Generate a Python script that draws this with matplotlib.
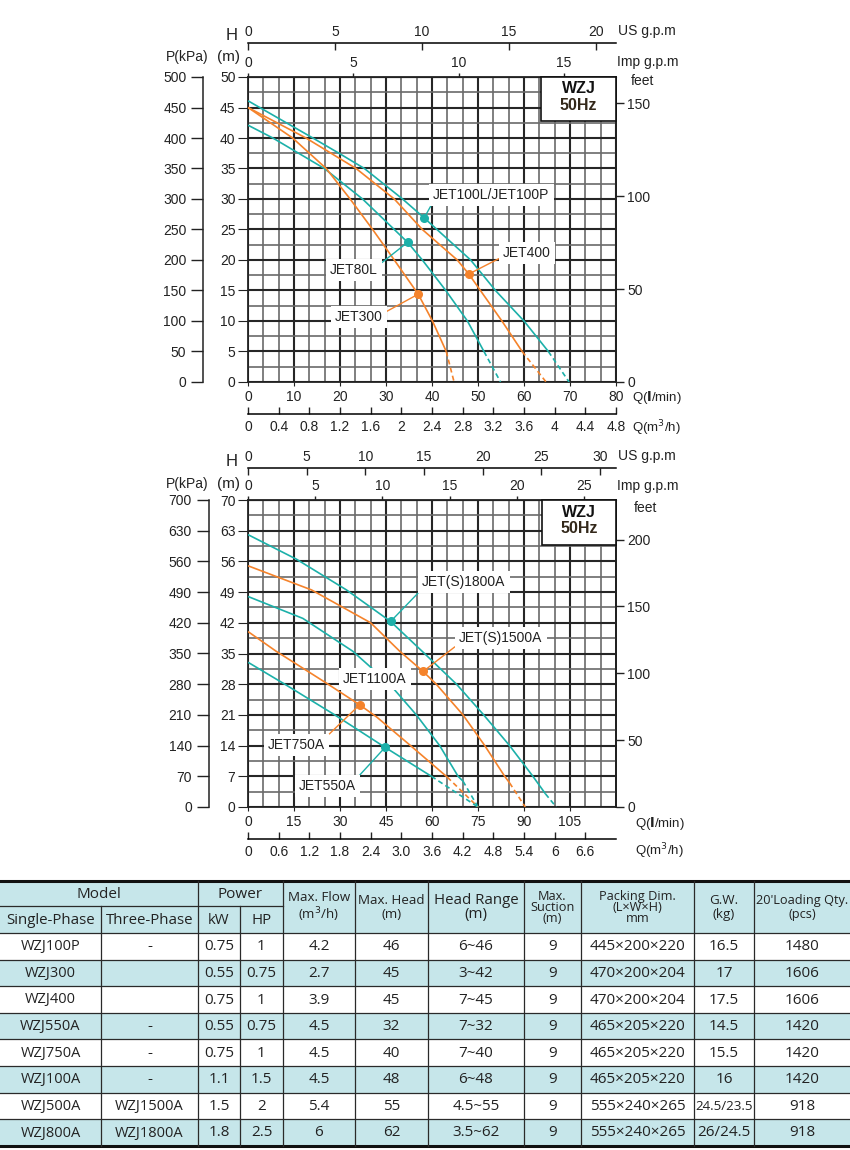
import numpy as np
import matplotlib
matplotlib.use("Agg")
import matplotlib.pyplot as plt
from matplotlib.patches import Rectangle

plt.rcParams['font.family'] = ['Liberation Sans', 'DejaVu Sans']

# ---------------- Data: upper chart ----------------
q_jet100 = [0, 14.1, 20, 25.3, 33.6, 38.3, 48.4, 53.8, 60.0, 65.3, 69.8]
h_jet100 = [46.1, 40, 37.4, 35, 30, 26.9, 20, 15, 10, 5, 0]
q_jet400 = [0, 12.6, 23.5, 31.8, 37.9, 45.5, 48.0, 55.2, 59.6, 64.8]
h_jet400 = [45, 40, 35, 30, 25, 20, 17.7, 10, 5, 0]
q_jet80l = [0, 5.4, 16.6, 24.9, 34.7, 37.9, 43.0, 47.7, 51.3, 54.9]
h_jet80l = [42.1, 40, 35, 30, 22.9, 20, 15, 10, 5, 0]
q_jet300 = [0, 9.7, 17.0, 22.2, 27.1, 31.8, 37.0, 40.1, 43.1, 44.8]
h_jet300 = [45, 40, 35, 30, 25, 20, 14.4, 10, 5, 0]
mark_q_top = [38.3, 48.0, 34.7, 37.0]
mark_h_top = [26.9, 17.7, 22.9, 14.4]
names_top = ['JET100L/JET100P', 'JET400', 'JET80L', 'JET300']

# ---------------- Data: lower chart ----------------
q_jet1800 = [0, 15.8, 32.1, 46.5, 57.1, 68, 76.6, 85.3, 92.9, 97.0, 100.5]
h_jet1800 = [62.1, 56.5, 49.5, 42.3, 35.3, 28, 21.2, 14, 7, 3, 0]
q_jet1500 = [0, 20.7, 40.0, 49.5, 57.1, 61.4, 70.1, 77.2, 83.7, 85.3, 90.4]
h_jet1500 = [55, 49.5, 42, 35.5, 30.9, 28, 21, 14, 7, 5.5, 0]
q_jet1100 = [0, 17.9, 34.2, 46.2, 54.9, 62.5, 68.5, 70.1, 75]
h_jet1100 = [48, 43, 35.5, 28, 21, 14, 7, 5.9, 0]
q_jet750 = [0, 9.2, 25, 36.4, 42, 53, 65, 75]
h_jet750 = [40, 35.5, 28.5, 23.3, 20.5, 14, 6.8, 0]
q_jet550 = [0, 12, 28.3, 44.7, 59.8, 75]
h_jet550 = [33, 28, 21, 13.6, 7, 0]
mark_q_bot = [46.5, 57.1, None, 36.4, 44.7]
mark_h_bot = [42.3, 30.9, None, 23.3, 13.6]
names_bot = ['JET(S)1800A', 'JET(S)1500A', 'JET1100A', 'JET750A', 'JET550A']

# ---------------- Data: table ----------------
single_phase = ['WZJ100P', 'WZJ300', 'WZJ400', 'WZJ550A', 'WZJ750A', 'WZJ100A', 'WZJ500A', 'WZJ800A']
three_phase = ['-', '', '', '-', '-', '-', 'WZJ1500A', 'WZJ1800A']
power_kw = ['0.75', '0.55', '0.75', '0.55', '0.75', '1.1', '1.5', '1.8']
power_hp = ['1', '0.75', '1', '0.75', '1', '1.5', '2', '2.5']
max_flow = ['4.2', '2.7', '3.9', '4.5', '4.5', '4.5', '5.4', '6']
max_head = ['46', '45', '45', '32', '40', '48', '55', '62']
head_range = ['6~46', '3~42', '7~45', '7~32', '7~40', '6~48', '4.5~55', '3.5~62']
max_suction = ['9', '9', '9', '9', '9', '9', '9', '9']
packing_dim = ['445×200×220', '470×200×204', '470×200×204', '465×205×220',
               '465×205×220', '465×205×220', '555×240×265', '555×240×265']
gross_weight = ['16.5', '17', '17.5', '14.5', '15.5', '16', '24.5/23.5', '26/24.5']
loading_qty = ['1480', '1606', '1606', '1420', '1420', '1420', '918', '918']

TEAL = '#1cb0a9'
ORANGE = '#f5832b'
W, H = 850, 1150
fig = plt.figure(figsize=(8.5, 11.5), dpi=100)


def frac(x0, y0, x1, y1):
    return [x0 / W, 1 - y1 / H, (x1 - x0) / W, (y1 - y0) / H]


def ftxt(x, y, s, **kw):
    kw.setdefault('fontsize', 10)
    kw.setdefault('color', '#222222')
    fig.text(x / W, 1 - y / H, s, **kw)


# ---------------- table (drawn in pixel space) ----------------
axt = fig.add_axes([0, 0, 1, 1])
axt.set_xlim(0, W)
axt.set_ylim(H, 0)
axt.axis('off')
BLUE = '#c6e6ea'
cols = [0, 101, 198, 240, 283, 355, 428, 524, 581, 694, 754, 850]
top, mid, hdr = 881, 906, 933
row_h = 26.6
rows = [hdr + i * row_h for i in range(9)]
axt.add_patch(Rectangle((0, top), W, hdr - top, fc=BLUE, ec='none'))
for i in range(8):
    if i % 2 == 1:
        axt.add_patch(Rectangle((0, rows[i]), W, row_h, fc=BLUE, ec='none'))
LC = '#2a2a2a'
axt.plot([0, W], [top, top], color='#111', lw=2.2)
axt.plot([0, W], [rows[-1], rows[-1]], color='#111', lw=2.2)
axt.plot([0, cols[4]], [mid, mid], color=LC, lw=0.9)
for y in rows[:-1]:
    axt.plot([0, W], [y, y], color=LC, lw=0.9)
for j, x in enumerate(cols[1:-1], start=1):
    y0 = mid if j in (1, 3) else top
    axt.plot([x, x], [y0, rows[-1]], color=LC, lw=0.9)

TF = ['Open Sans', 'DejaVu Sans']
def cell(c0, c1, y0, y1, s, size=11, ls=1.0):
    axt.text((cols[c0] + cols[c1]) / 2, (y0 + y1) / 2 + 0.5, s, ha='center', va='center',
             fontsize=size, color='#222222', family=TF, linespacing=ls)

cell(0, 2, top, mid, 'Model', 11)
cell(2, 4, top, mid, 'Power', 11)
cell(0, 1, mid, hdr, 'Single-Phase', 10.8)
cell(1, 2, mid, hdr, 'Three-Phase', 10.8)
cell(2, 3, mid, hdr, 'kW', 10.8)
cell(3, 4, mid, hdr, 'HP', 10.8)
cell(4, 5, top, hdr, 'Max. Flow\n(m$^3$/h)', 9.6, 1.05)
cell(5, 6, top, hdr, 'Max. Head\n(m)', 9.6, 1.05)
cell(6, 7, top, hdr, 'Head Range\n(m)', 10.8, 0.95)
cell(7, 8, top, hdr, 'Max.\nSuction\n(m)', 9.2, 0.82)
cell(8, 9, top, hdr, 'Packing Dim.\n(L×W×H)\nmm', 9.2, 0.82)
cell(9, 10, top, hdr, 'G.W.\n(kg)', 9.6, 1.05)
cell(10, 11, top, hdr, "20'Loading Qty.\n(pcs)", 9.2, 1.05)

table_cols = [single_phase, three_phase, power_kw, power_hp, max_flow, max_head,
              head_range, max_suction, packing_dim, gross_weight, loading_qty]
for i in range(8):
    for j, col in enumerate(table_cols):
        s = col[i]
        size = 11
        if j == 0 or (j == 1 and s.startswith('WZJ')):
            size = 10.5
        if j == 9 and '/' in s and len(s) > 7:
            size = 9.6
        cell(j, j + 1, rows[i], rows[i + 1], s, size)


# ---------------- charts ----------------
def minor_only(step, major, vmax):
    vals = np.arange(0, vmax + 1e-6, step)
    return [v for v in vals if abs(v / major - round(v / major)) > 1e-6]


def make_chart(rect, spec):
    ax = fig.add_axes(rect)
    qmax, hmax = spec['qmax'], spec['hmax']
    ax.set_xlim(0, qmax)
    ax.set_ylim(0, hmax)
    ax.set_xticks(spec['q_ticks'])
    ax.set_xticks(minor_only(spec['q_minor'], spec['q_major'], qmax), minor=True)
    ax.set_yticks(spec['h_ticks'])
    ax.set_yticks(minor_only(spec['h_minor'], spec['h_major'], hmax), minor=True)
    ax.grid(which='minor', color='#6a6a6a', lw=1.2, zorder=1)
    ax.grid(which='major', color='#262626', lw=1.5, zorder=1)
    ax.set_axisbelow(True)
    for sp in ax.spines.values():
        sp.set_color('#222')
        sp.set_linewidth(1.3)
    ax.tick_params(axis='x', which='major', direction='out', length=3, labelsize=10,
                   pad=3, colors='#222')
    ax.tick_params(axis='y', which='major', direction='out', length=7, labelsize=10,
                   pad=2, colors='#222')
    ax.tick_params(which='minor', length=0)

    for (q, h, c) in spec['curves']:
        ax.plot(q[:-1], h[:-1], color=c, lw=1.2, zorder=3, solid_capstyle='butt')
        ax.plot(q[-2:], h[-2:], color=c, lw=1.2, ls=(0, (3, 2)), zorder=3)

    for (name, mq, mh, c, tpos, rel) in spec['labels']:
        if mq is not None:
            ax.plot([mq], [mh], 'o', ms=5.5, color=c, zorder=4)
            ax.annotate(name, xy=(mq, mh), xytext=tpos, ha='left', va='center',
                        fontsize=10, color='#222',
                        bbox=dict(boxstyle='square,pad=0.3', fc='white', ec='none'),
                        arrowprops=dict(arrowstyle='-', color=c, lw=1.0, shrinkA=0,
                                        shrinkB=0, relpos=rel), zorder=5)
        else:
            ax.text(tpos[0], tpos[1], name, ha='left', va='center', fontsize=10,
                    color='#222', zorder=5,
                    bbox=dict(boxstyle='square,pad=0.3', fc='white', ec='none'))

    # WZJ box
    bx0, by0 = spec['box']
    ax.add_patch(Rectangle((bx0, by0), 1 - bx0, 1 - by0, transform=ax.transAxes,
                           fc='white', ec='#111', lw=1.2, zorder=6, clip_on=False))
    cx = (bx0 + 1) / 2
    ax.text(cx, spec['wzj_y'][0], 'WZJ', transform=ax.transAxes, ha='center', va='center',
            fontsize=11.5, fontweight='bold', color='#111', zorder=7)
    ax.text(cx, spec['wzj_y'][1], '50Hz', transform=ax.transAxes, ha='center', va='center',
            fontsize=11.5, fontweight='bold', color='#33281a', zorder=7)

    # P(kPa) axis
    sp_ = ax.secondary_yaxis(spec['p_loc'], functions=(lambda h: h * 10, lambda p: p / 10))
    sp_.set_yticks(spec['p_ticks'])
    sp_.tick_params(direction='out', length=9, width=1, labelsize=10, pad=3, colors='#222')
    sp_.spines['left'].set_linewidth(1.1)
    sp_.spines['left'].set_color('#222')

    # feet axis
    sf = ax.secondary_yaxis('right', functions=(lambda m: m / 0.3048, lambda f: f * 0.3048))
    sf.set_yticks(spec['ft_ticks'])
    sf.tick_params(direction='out', length=6, width=1, labelsize=10, pad=2, colors='#222')
    sf.spines['right'].set_linewidth(1.3)

    # m3/h axis
    sm = ax.secondary_xaxis(spec['m3_loc'], functions=(lambda q: q * 0.06, lambda m: m / 0.06))
    sm.set_xticks(spec['m3_ticks'], labels=spec['m3_labels'])
    sm.tick_params(direction='in', length=5, width=1, labelsize=10, pad=4, colors='#222')
    sm.spines['bottom'].set_linewidth(1.1)
    sm.set_xlim  # noqa

    usf, impf = spec['us_f'], spec['imp_f']
    su = ax.secondary_xaxis(spec['us_loc'], functions=(lambda q: q * usf, lambda g: g / usf))
    su.set_xticks(spec['us_ticks'])
    su.tick_params(direction='in', length=5, width=1, labelsize=10, pad=3, colors='#222')
    su.spines['top'].set_linewidth(1.1)

    si = ax.secondary_xaxis('top', functions=(lambda q: q * impf, lambda g: g / impf))
    si.set_xticks(spec['imp_ticks'])
    si.tick_params(direction='out', length=3, width=1, labelsize=10, pad=2, colors='#222')
    return ax


# layout for upper chart (pixels)
t_x0, t_x1, t_y0, t_y1 = 248, 616, 77, 382
def tq(x):
    return (x - 248) / 4.6
def th(y):
    return (382 - y) / 6.1

spec_top = dict(
    qmax=80, hmax=50, q_ticks=list(range(0, 81, 10)), q_major=10, q_minor=10 / 3,
    h_ticks=list(range(0, 51, 5)), h_major=5, h_minor=2.5,
    curves=[(q_jet100, h_jet100, TEAL), (q_jet400, h_jet400, ORANGE),
            (q_jet80l, h_jet80l, TEAL), (q_jet300, h_jet300, ORANGE)],
    labels=[(names_top[0], mark_q_top[0], mark_h_top[0], TEAL, (tq(433), th(195)), (0.0, 0.0)),
            (names_top[1], mark_q_top[1], mark_h_top[1], ORANGE, (tq(503), th(253)), (0.0, 0.25)),
            (names_top[2], mark_q_top[2], mark_h_top[2], TEAL, (tq(330), th(270)), (1.0, 0.8)),
            (names_top[3], mark_q_top[3], mark_h_top[3], ORANGE, (tq(335), th(317)), (1.0, 0.75))],
    box=((541 - 248) / 368, 1 - (121 - 77) / 305), wzj_y=(0.962, 0.905),
    p_loc=-0.122, p_ticks=list(range(0, 501, 50)),
    ft_ticks=[0, 50, 100, 150],
    m3_loc=-(414 - 382) / 305,
    m3_ticks=[0, 0.4, 0.8, 1.2, 1.6, 2, 2.4, 2.8, 3.2, 3.6, 4, 4.4, 4.8],
    m3_labels=['0', '0.4', '0.8', '1.2', '1.6', '2', '2.4', '2.8', '3.2', '3.6', '4', '4.4', '4.8'],
    us_loc=1 + (77 - 43) / 305, us_f=0.2644, us_ticks=[0, 5, 10, 15, 20],
    imp_f=0.2183, imp_ticks=[0, 5, 10, 15],
)
make_chart(frac(t_x0, t_y0, t_x1, t_y1), spec_top)

# layout for lower chart (pixels)
b_x0, b_x1, b_y0, b_y1 = 248, 616, 500, 807
def bq(x):
    return (x - 248) / 3.067
def bh(y):
    return (807 - y) / 4.386

spec_bot = dict(
    qmax=120, hmax=70, q_ticks=list(range(0, 106, 15)), q_major=15, q_minor=5,
    h_ticks=list(range(0, 71, 7)), h_major=7, h_minor=3.5,
    curves=[(q_jet1800, h_jet1800, TEAL), (q_jet1500, h_jet1500, ORANGE),
            (q_jet1100, h_jet1100, TEAL), (q_jet750, h_jet750, ORANGE),
            (q_jet550, h_jet550, TEAL)],
    labels=[(names_bot[0], mark_q_bot[0], mark_h_bot[0], TEAL, (bq(422), bh(582)), (0.0, 0.0)),
            (names_bot[1], mark_q_bot[1], mark_h_bot[1], ORANGE, (bq(459), bh(638)), (0.0, 0.1)),
            (names_bot[2], mark_q_bot[2], mark_h_bot[2], TEAL, (bq(343), bh(679)), (0, 0)),
            (names_bot[3], mark_q_bot[3], mark_h_bot[3], ORANGE, (bq(268), bh(745)), (1.0, 1.0)),
            (names_bot[4], mark_q_bot[4], mark_h_bot[4], TEAL, (bq(299), bh(786)), (1.0, 1.0))],
    box=((542 - 248) / 368, 1 - (545 - 500) / 307), wzj_y=(0.958, 0.907),
    p_loc=-0.107, p_ticks=list(range(0, 701, 70)),
    ft_ticks=[0, 50, 100, 150, 200],
    m3_loc=-(839 - 807) / 307,
    m3_ticks=[0, 0.6, 1.2, 1.8, 2.4, 3.0, 3.6, 4.2, 4.8, 5.4, 6, 6.6],
    m3_labels=['0', '0.6', '1.2', '1.8', '2.4', '3.0', '3.6', '4.2', '4.8', '5.4', '6', '6.6'],
    us_loc=1 + (500 - 468) / 307, us_f=0.2614, us_ticks=[0, 5, 10, 15, 20, 25, 30],
    imp_f=0.2282, imp_ticks=[0, 5, 10, 15, 20, 25],
)
make_chart(frac(b_x0, b_y0, b_x1, b_y1), spec_bot)

# axis titles
for (yH, ym, yus, yimp, yft, xft, yq, ym3, xq) in [
        (36, 57, 31, 62, 81, 631, 397, 428, 632),
        (462, 484, 456, 486, 508, 634, 823, 851, 635)]:
    ftxt(232, yH, 'H', fontsize=12, ha='center', va='center')
    ftxt(229, ym, '(m)', fontsize=11, ha='center', va='center')
    ftxt(187, ym, 'P(kPa)', fontsize=10, ha='center', va='center')
    ftxt(618, yus, 'US g.p.m', fontsize=10, ha='left', va='center')
    ftxt(617, yimp, 'Imp g.p.m', fontsize=10, ha='left', va='center')
    ftxt(xft, yft, 'feet', fontsize=10, ha='left', va='center')
    ftxt(xq, yq, 'Q($\\mathbf{l}$/min)', fontsize=9.5, ha='left', va='center')
    ftxt(xq, ym3, 'Q(m$^3$/h)', fontsize=9.5, ha='left', va='center')

fig.savefig('out.png', dpi=100)
